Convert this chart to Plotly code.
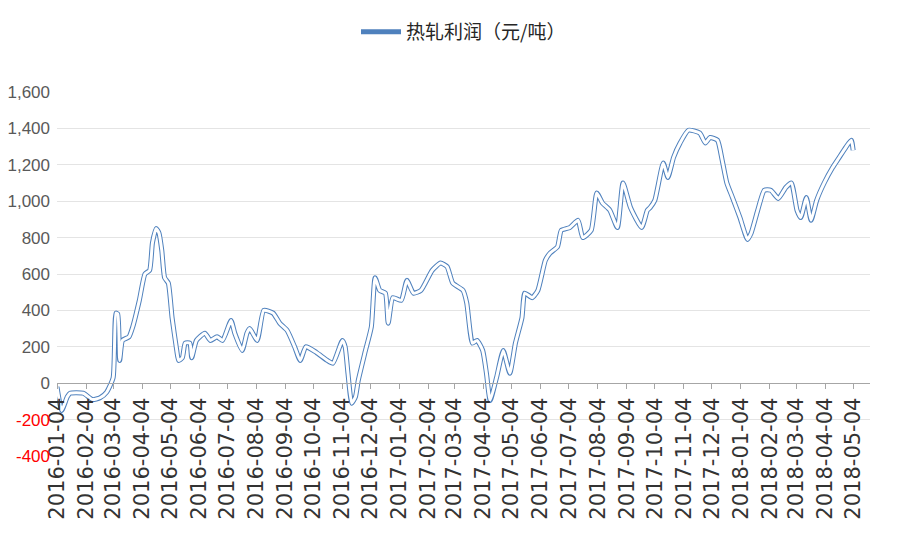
import plotly.graph_objects as go

# 热轧利润（元/吨），从图上读出的近似值
dates = [
    '2016-01-04', '2016-01-09', '2016-01-15', '2016-01-18', '2016-02-01', '2016-02-11',
    '2016-02-19', '2016-02-26', '2016-03-04', '2016-03-07', '2016-03-09', '2016-03-11',
    '2016-03-14', '2016-03-21', '2016-03-25', '2016-04-01', '2016-04-07', '2016-04-12',
    '2016-04-15', '2016-04-19', '2016-04-22', '2016-04-25', '2016-04-28', '2016-05-02',
    '2016-05-06', '2016-05-11', '2016-05-13', '2016-05-17', '2016-05-20', '2016-05-25',
    '2016-05-27', '2016-06-01', '2016-06-10', '2016-06-16', '2016-06-23', '2016-06-29',
    '2016-07-08', '2016-07-12', '2016-07-20', '2016-07-25', '2016-07-28', '2016-08-05',
    '2016-08-12', '2016-08-22', '2016-08-29', '2016-09-06', '2016-09-14', '2016-09-20',
    '2016-09-26', '2016-10-07', '2016-10-19', '2016-10-25', '2016-11-04', '2016-11-07',
    '2016-11-10', '2016-11-14', '2016-11-18', '2016-11-21', '2016-11-28', '2016-12-05',
    '2016-12-09', '2016-12-14', '2016-12-20', '2016-12-23', '2016-12-28', '2017-01-06',
    '2017-01-12', '2017-01-19', '2017-01-27', '2017-02-08', '2017-02-17', '2017-02-24',
    '2017-03-02', '2017-03-13', '2017-03-17', '2017-03-23', '2017-03-28', '2017-04-03',
    '2017-04-07', '2017-04-11', '2017-04-18', '2017-04-25', '2017-05-02', '2017-05-08',
    '2017-05-15', '2017-05-18', '2017-05-26', '2017-06-01', '2017-06-09', '2017-06-14',
    '2017-06-22', '2017-06-26', '2017-07-05', '2017-07-14', '2017-07-19', '2017-07-28',
    '2017-08-03', '2017-08-09', '2017-08-17', '2017-08-25', '2017-08-31', '2017-09-08',
    '2017-09-20', '2017-09-26', '2017-09-29', '2017-10-04', '2017-10-13', '2017-10-18',
    '2017-10-24', '2017-10-31', '2017-11-09', '2017-11-21', '2017-11-27', '2017-12-02',
    '2017-12-10', '2017-12-15', '2017-12-20', '2017-12-26', '2018-01-03', '2018-01-11',
    '2018-01-15', '2018-01-22', '2018-01-29', '2018-02-05', '2018-02-13', '2018-02-21',
    '2018-02-27', '2018-03-05', '2018-03-09', '2018-03-15', '2018-03-20', '2018-03-26',
    '2018-04-03', '2018-04-12', '2018-04-19', '2018-04-26', '2018-05-02', '2018-05-04',
]
profit = [
    -20, -150, -75, -55, -55, -90,
    -80, -50, 30, 385, 380, 125,
    235, 255, 310, 455, 600, 620,
    770, 850, 825, 730, 580, 550,
    360, 180, 125, 140, 220, 220,
    140, 235, 275, 235, 255, 235,
    345, 275, 180, 275, 300, 235,
    400, 385, 330, 290, 200, 125,
    200, 170, 125, 110, 235, 200,
    55, -110, -75, 15, 165, 310,
    580, 510, 495, 330, 470, 455,
    565, 495, 510, 620, 660, 640,
    550, 510, 440, 220, 235, 180,
    55, -95, 35, 180, 55, 220,
    360, 495, 470, 510, 675, 715,
    750, 840, 855, 895, 800, 840,
    1045, 990, 950, 855, 1100, 965,
    855, 950, 965, 1005, 1210, 1130,
    1240, 1320, 1390, 1375, 1320, 1350,
    1335, 1225, 1100, 1020, 910, 790,
    825, 950, 1060, 1060, 1015, 1075,
    1100, 950, 910, 1020, 895, 1005,
    1100, 1185, 1240, 1295, 1335, 1280,
]

y_ticks = [-400, -200, 0, 200, 400, 600, 800, 1000, 1200, 1400, 1600]
y_labels = ['<span style="color:#ff0000">-400</span>',
            '<span style="color:#ff0000">-200</span>',
            '0', '200', '400', '600', '800', '1,000', '1,200', '1,400', '1,600']

fig = go.Figure()

# 宽的蓝线 + 细白线叠加，形成原图那种空心线条效果
fig.add_trace(go.Scatter(
    x=dates, y=profit,
    mode='lines',
    name='热轧利润（元/吨）',
    line=dict(color='#4f81bd', width=5, shape='spline', smoothing=0.5),
))
fig.add_trace(go.Scatter(
    x=dates, y=profit,
    mode='lines',
    showlegend=False,
    line=dict(color='#ffffff', width=3, shape='spline', smoothing=0.5),
))

fig.update_layout(
    width=907, height=546,
    margin=dict(l=49, r=45, t=84, b=98, autoexpand=False),
    paper_bgcolor='white',
    plot_bgcolor='white',
    font=dict(family='Liberation Sans, Noto Sans CJK SC', color='#404040'),
    showlegend=True,
    legend=dict(
        orientation='h',
        x=0.5, xanchor='center',
        y=1.165, yanchor='middle',
        font=dict(size=19, family='Noto Sans CJK SC', color='#262626'),
        itemwidth=40,
    ),
    xaxis=dict(
        type='date',
        range=['2016-01-04', '2018-05-22'],
        tick0='2016-01-04',
        dtick='M1',
        tickformat='%Y-%m-%d',
        tickangle=-90,
        tickfont=dict(size=21, family='DejaVu Sans', color='#333333'),
        anchor='free',
        position=0.2,
        showline=True,
        linecolor='#a6a6a6',
        linewidth=1,
        ticks='outside',
        ticklen=5,
        tickcolor='#a6a6a6',
        showgrid=False,
        zeroline=False,
        automargin=False,
    ),
    yaxis=dict(
        range=[-400, 1600],
        tickvals=y_ticks,
        ticktext=y_labels,
        tickfont=dict(size=17, color='#595959'),
        ticklabelstandoff=6,
        showgrid=True,
        gridcolor='#e4e4e4',
        gridwidth=1,
        zeroline=False,
        showline=False,
        automargin=False,
    ),
)

fig.write_html("out.html")
